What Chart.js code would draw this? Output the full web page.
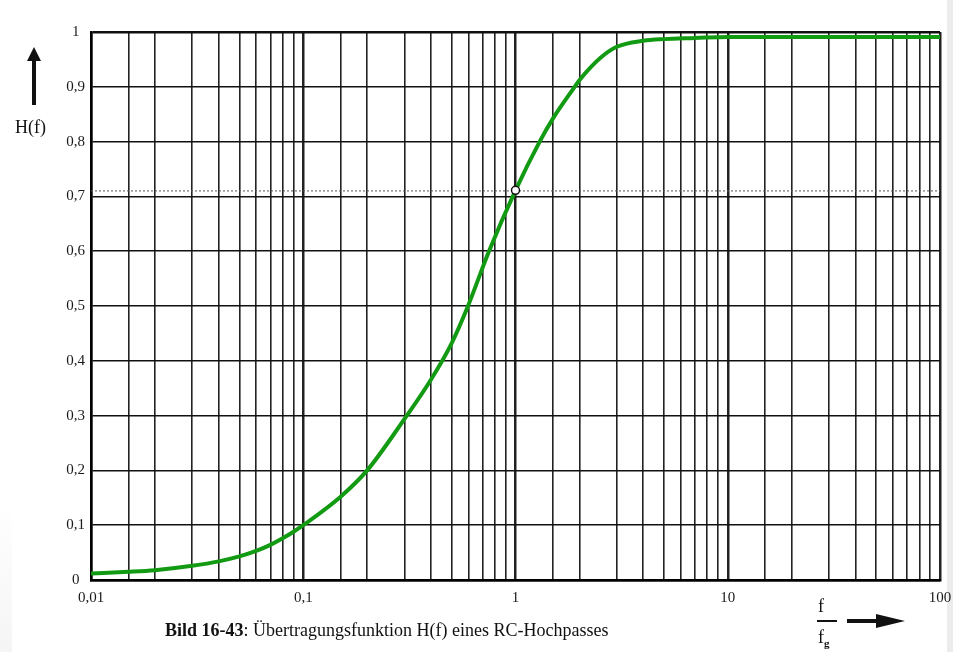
<!DOCTYPE html>
<html>
<head>
<meta charset="utf-8">
<script src="https://cdn.jsdelivr.net/npm/chart.js@4.4.1/dist/chart.umd.min.js"></script>
<style>
  html, body { margin: 0; padding: 0; background: #fff; }
  #wrap { position: relative; width: 953px; height: 652px; overflow: hidden; font-family: 'Liberation Serif', serif; color: #111; }
  #edgeR { position: absolute; left: 947px; top: 0; width: 6px; height: 652px; background: #ececec; }
  #edgeL { position: absolute; left: 0; top: 500px; width: 12px; height: 152px; background: linear-gradient(#fff, #f5f5f5); }
  #chart { position: absolute; left: 0; top: 0; }
  .lbl { position: absolute; white-space: nowrap; }
  #hf { left: 15px; top: 117px; font-size: 18px; }
  #caption { left: 165px; top: 620px; font-size: 18px; }
  #fnum { left: 818px; top: 596px; font-size: 18px; }
  #fden { left: 818px; top: 627px; font-size: 18px; }
  #fden sub { font-size: 11px; font-weight: bold; vertical-align: -4px; }
  #fbar { position: absolute; left: 817px; top: 620px; width: 20px; height: 2px; background: #111; }
  svg { position: absolute; left: 0; top: 0; }
</style>
</head>
<body>
<div id="wrap">
  <div id="edgeL"></div>
  <div id="edgeR"></div>
  <canvas id="chart" width="953" height="652"></canvas>
  <div class="lbl" id="hf">H(f)</div>
  <div class="lbl" id="caption"><b>Bild 16-43</b>: Übertragungsfunktion H(f) eines RC-Hochpasses</div>
  <div class="lbl" id="fnum">f</div>
  <div id="fbar"></div>
  <div class="lbl" id="fden">f<sub>g</sub></div>
  <svg width="953" height="652">
    <rect x="32" y="59" width="4" height="46" fill="#111"/>
    <polygon points="27,61 41,61 34,47" fill="#111"/>
    <rect x="847" y="619" width="32" height="4" fill="#111"/>
    <polygon points="876,614 876,628 905,621" fill="#111"/>
  </svg>
</div>
<script>
const fVals = [0.01, 0.015, 0.02, 0.03, 0.04, 0.05, 0.06, 0.07, 0.08, 0.09, 0.1, 0.15, 0.2, 0.3, 0.4, 0.5, 0.6, 0.75, 1, 1.3, 1.5, 1.9, 2, 2.5, 3, 4, 5, 7, 10, 20, 50, 100];
const hVals = [0.012, 0.015, 0.018, 0.026, 0.034, 0.043, 0.053, 0.064, 0.076, 0.088, 0.1, 0.152, 0.2, 0.294, 0.366, 0.432, 0.502, 0.6, 0.711, 0.8, 0.842, 0.9, 0.912, 0.952, 0.973, 0.984, 0.987, 0.989, 0.991, 0.991, 0.991, 0.991];

const markerF = [1];
const markerH = [0.711];
const refF = [0.01, 100];
const refH = [0.71, 0.71];

const decades = [0.01, 0.1, 1, 10];
const steps = [1, 1.5, 2, 3, 4, 5, 6, 7, 8, 9];
const xTickVals = [0.01, 0.1, 1, 10, 100];
const xTickLabels = ['0,01', '0,1', '1', '10', '100'];
const yTickVals = [0, 0.1, 0.2, 0.3, 0.4, 0.5, 0.6, 0.7, 0.8, 0.9, 1];
const yTickLabels = ['0', '0,1', '0,2', '0,3', '0,4', '0,5', '0,6', '0,7', '0,8', '0,9', '1'];

const xGrid = [];
decades.forEach((d) => steps.forEach((s) => xGrid.push(+(d * s).toPrecision(3))));
xGrid.push(100);

const isMajorX = (v) => xTickVals.some((t) => Math.abs(t - v) < 1e-9);

Chart.defaults.font.family = "'Liberation Serif', serif";
Chart.defaults.font.size = 15;
Chart.defaults.color = '#1a1a1a';

const ctx = document.querySelector('#chart').getContext('2d');
new Chart(ctx, {
  type: 'line',
  data: {
    datasets: [
      {
        data: markerF.map((f, i) => ({ x: f, y: markerH[i] })),
        showLine: false,
        pointRadius: 4,
        pointBackgroundColor: '#fff',
        pointBorderColor: '#111',
        pointBorderWidth: 1.5,
      },
      {
        data: fVals.map((f, i) => ({ x: f, y: hVals[i] })),
        borderColor: '#139a13',
        borderWidth: 4,
        pointRadius: 0,
        cubicInterpolationMode: 'monotone',
      },
      {
        data: refF.map((f, i) => ({ x: f, y: refH[i] })),
        borderColor: '#555',
        borderWidth: 1,
        borderDash: [2, 2],
        pointRadius: 0,
      },
    ],
  },
  options: {
    responsive: false,
    animation: false,
    devicePixelRatio: 1,
    layout: { padding: { left: 0, top: 32, right: 13, bottom: 0 } },
    plugins: { legend: { display: false }, tooltip: { enabled: false } },
    scales: {
      x: {
        type: 'logarithmic',
        min: 0.01,
        max: 100,
        afterBuildTicks: (s) => { s.ticks = xGrid.map((v) => ({ value: v })); },
        afterFit: (s) => { s.height = 72; s.paddingLeft = 0; s.paddingRight = 0; },
        ticks: {
          autoSkip: false,
          maxRotation: 0,
          padding: 9,
          callback: (v) => {
            const i = xTickVals.findIndex((t) => Math.abs(t - v) < 1e-9);
            return i >= 0 ? xTickLabels[i] : '';
          },
        },
        grid: {
          drawTicks: false,
          color: '#222',
          lineWidth: (c) => (c.tick && isMajorX(c.tick.value) ? 2.5 : 1.6),
        },
        border: { color: '#000', width: 2.5 },
      },
      y: {
        min: 0,
        max: 1,
        afterBuildTicks: (s) => { s.ticks = yTickVals.map((v) => ({ value: v })); },
        afterFit: (s) => { s.width = 91; s.paddingTop = 0; s.paddingBottom = 0; },
        ticks: {
          crossAlign: 'center',
          padding: 6,
          callback: (v) => {
            const i = yTickVals.findIndex((t) => Math.abs(t - v) < 1e-9);
            return i >= 0 ? yTickLabels[i] : '';
          },
        },
        grid: {
          drawTicks: false,
          color: '#111',
          lineWidth: (c) => (c.tick && (c.tick.value === 0 || c.tick.value === 1) ? 2.5 : 1.6),
        },
        border: { color: '#000', width: 2.5 },
      },
    },
  },
});
</script>
</body>
</html>
